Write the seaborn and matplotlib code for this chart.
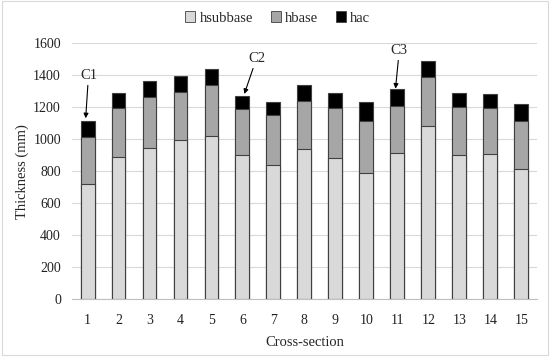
import pandas as pd
import matplotlib
matplotlib.use('Agg')
import matplotlib.pyplot as plt
import seaborn as sns
from matplotlib.patches import Patch, Rectangle

# Layer thicknesses (mm) per cross-section
sections = [str(i) for i in range(1, 16)]
hsubbase = [720, 885, 945, 995, 1020, 900, 840, 935, 880, 785, 915, 1080, 900, 905, 815]
hbase = [290, 310, 320, 300, 315, 285, 310, 300, 315, 330, 290, 310, 300, 290, 295]
hac = [105, 90, 95, 100, 100, 85, 80, 100, 95, 115, 105, 100, 90, 85, 110]

df = pd.DataFrame({'section': sections, 'hsubbase': hsubbase, 'hbase': hbase, 'hac': hac})
df['base_top'] = df['hsubbase'] + df['hbase']
df['total'] = df['base_top'] + df['hac']

sns.set_style('white')
plt.rcParams['font.family'] = ['Liberation Serif', 'DejaVu Serif']

fig, ax = plt.subplots(figsize=(5.5, 3.59), dpi=100)
fig.subplots_adjust(left=0.131, right=0.976, bottom=0.167, top=0.880)

colors = {'hsubbase': '#d9d9d9', 'hbase': '#a6a6a6', 'hac': '#000000'}
edge = '#404040'

# stacked bars drawn back to front as cumulative totals
sns.barplot(data=df, x='section', y='total', color=colors['hac'], width=0.45,
            edgecolor=edge, linewidth=0.8, saturation=1, ax=ax, zorder=2)
sns.barplot(data=df, x='section', y='base_top', color=colors['hbase'], width=0.45,
            edgecolor=edge, linewidth=0.8, saturation=1, ax=ax, zorder=3)
sns.barplot(data=df, x='section', y='hsubbase', color=colors['hsubbase'], width=0.45,
            edgecolor=edge, linewidth=0.8, saturation=1, ax=ax, zorder=4)

ax.set_ylim(0, 1600)
ax.set_yticks(range(0, 1601, 200))
ax.set_xlim(-0.5, 14.5)
ax.yaxis.grid(True, color='#d9d9d9', linewidth=0.8, zorder=0)
ax.set_axisbelow(True)
for s in ['top', 'right', 'left']:
    ax.spines[s].set_visible(False)
ax.spines['bottom'].set_color('#bfbfbf')
ax.tick_params(axis='y', length=0, labelsize=10, pad=8, colors='#222222')
ax.tick_params(axis='x', length=0, labelsize=10, pad=11, colors='#222222')
ax.set_xlabel('Cross-section', fontsize=10.5, labelpad=6)
ax.set_ylabel('Thickness (mm)', fontsize=10.5, labelpad=3)

# callouts
notes = [('C1', (0.03, 1356), (-0.06, 1130)),
         ('C2', (5.45, 1462), (5.06, 1282)),
         ('C3', (10.06, 1512), (9.94, 1315))]
for label, txt, tip in notes:
    ax.annotate(label, xy=tip, xytext=txt, ha='center', va='bottom', fontsize=10.5,
                arrowprops=dict(arrowstyle='-|>', color='black', lw=0.8,
                                mutation_scale=7, shrinkA=0, shrinkB=0))

handles = [Patch(facecolor=colors[k], edgecolor=edge, linewidth=0.6, label=k)
           for k in ['hsubbase', 'hbase', 'hac']]
fig.legend(handles=handles, loc='upper center', bbox_to_anchor=(0.505, 1.005), ncol=3,
           frameon=False, fontsize=10.5, handlelength=0.7, handleheight=0.7,
           handletextpad=0.3, columnspacing=1.2)

fig.patches.append(Rectangle((0.004, 0.012), 0.992, 0.984, transform=fig.transFigure,
                             fill=False, edgecolor='#d9d9d9', linewidth=0.8))

fig.savefig('out.png', dpi=100)
